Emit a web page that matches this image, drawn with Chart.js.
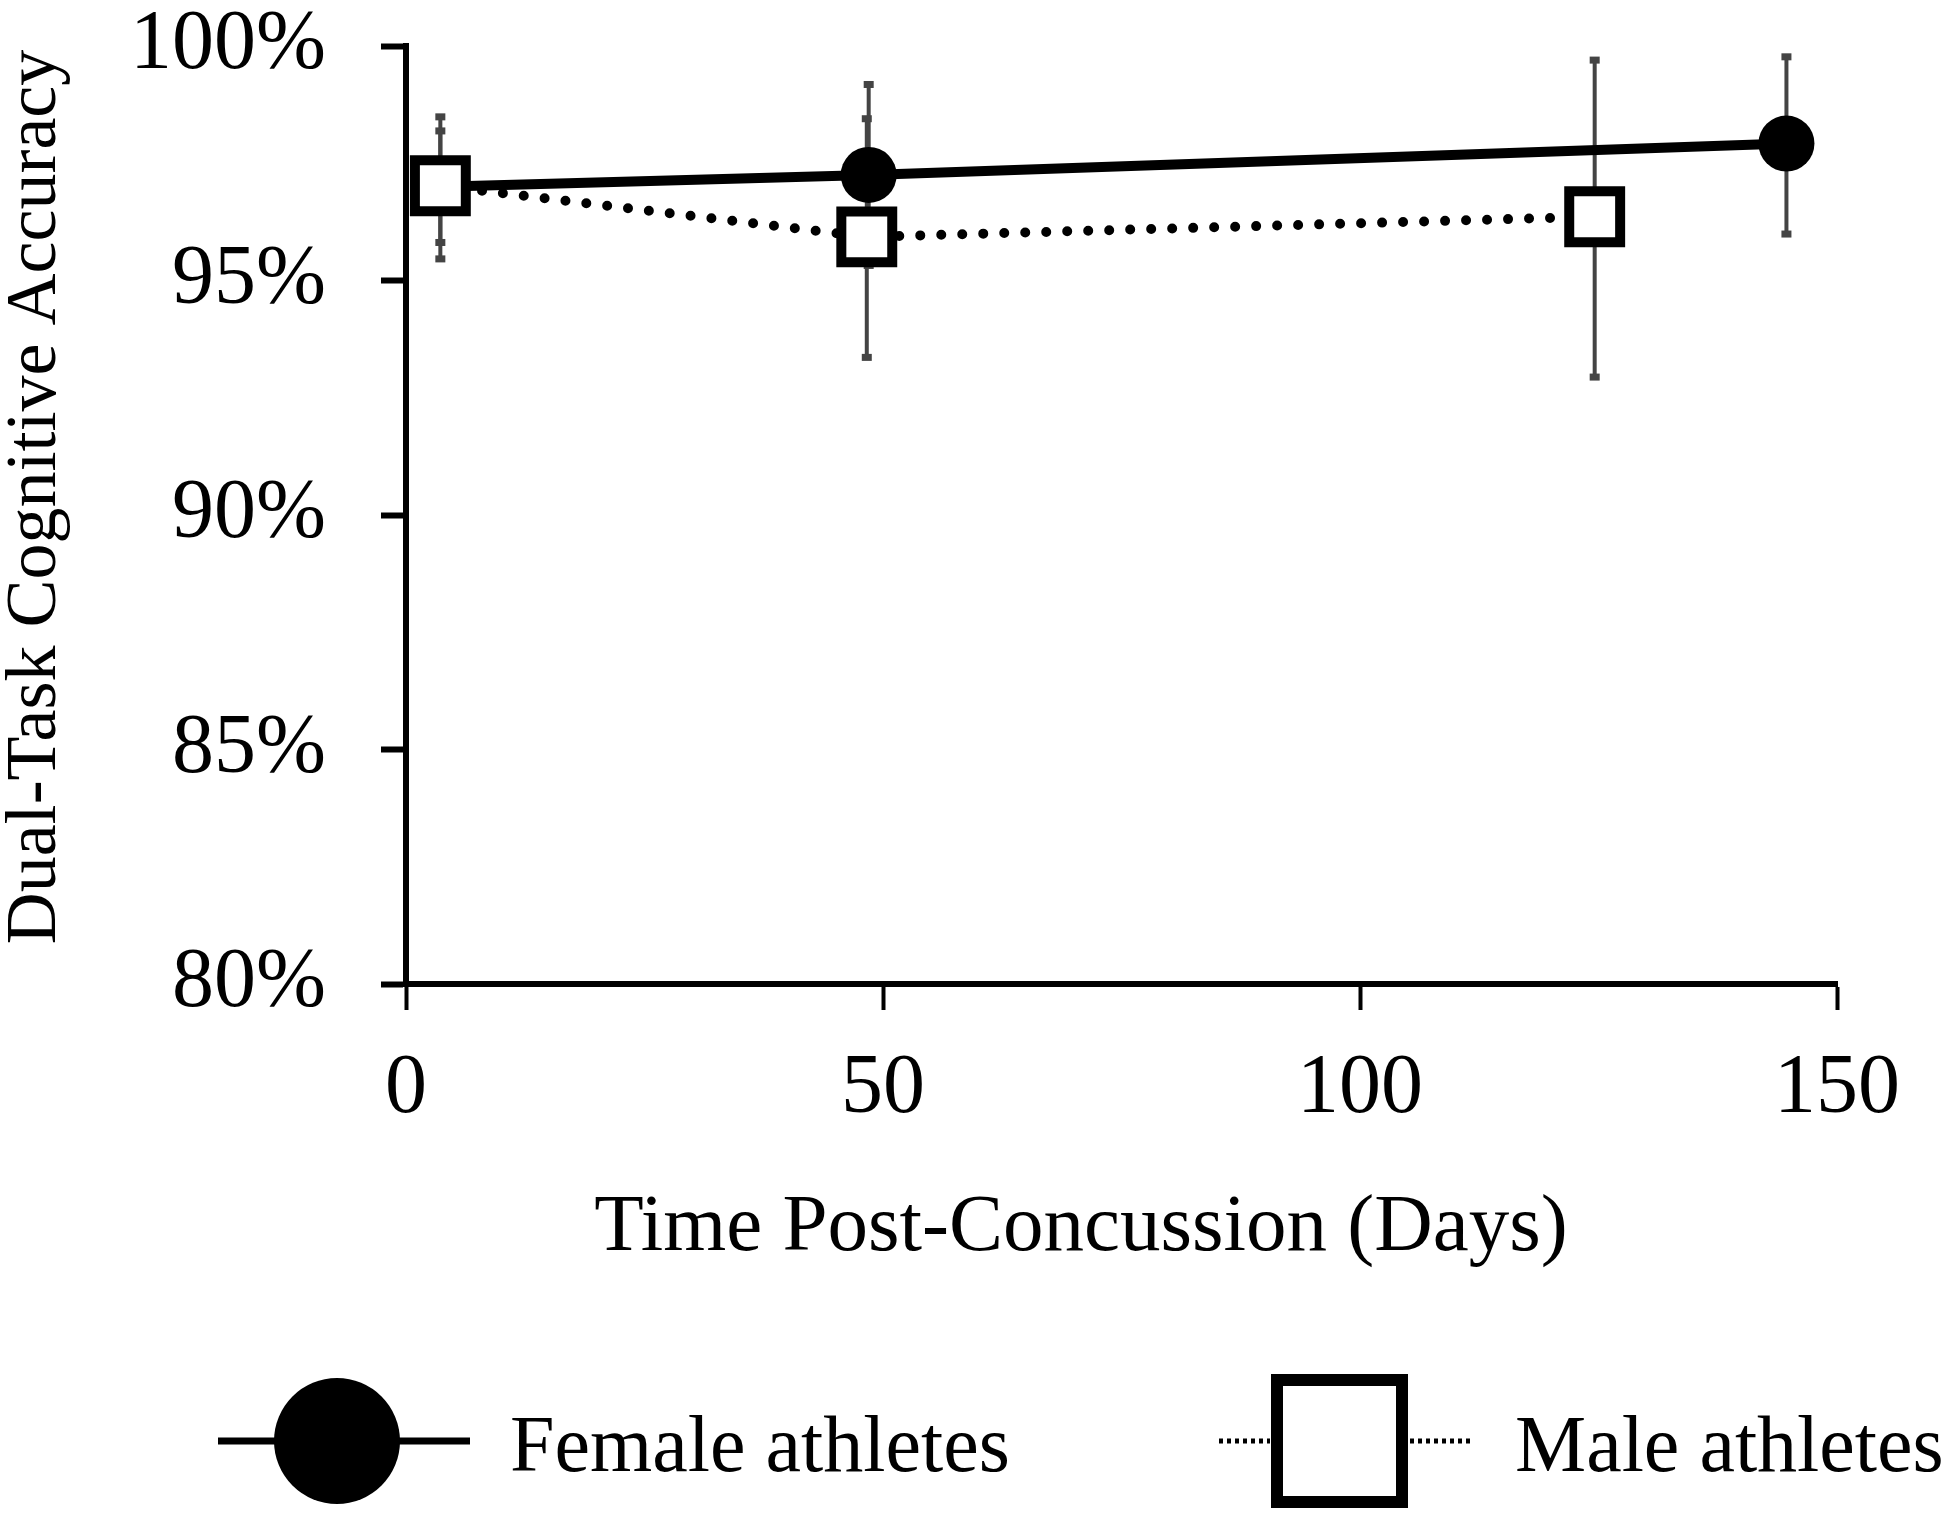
<!DOCTYPE html>
<html>
<head>
<meta charset="utf-8">
<script src="https://cdn.jsdelivr.net/npm/chart.js@4.4.0/dist/chart.umd.min.js"></script>
<style>
  html, body { margin: 0; padding: 0; background: #fff; }
  #wrap { width: 1950px; height: 1525px; position: relative; }
</style>
</head>
<body>
<div id="wrap"><canvas id="chart"></canvas></div>
<script>
// values (days post-concussion, % accuracy, error bar ends)
const femaleDays = [3.6, 48.5, 144.7];
const femaleMean = [97.0, 97.25, 97.92];
const femaleLow = [95.45, 95.31, 95.98];
const femaleHigh = [98.5, 99.19, 99.78];

const maleDays = [3.6, 48.3, 124.6];
const maleMean = [97.02, 95.93, 96.36];
const maleLow = [95.8, 93.35, 92.93];
const maleHigh = [98.2, 98.46, 99.71];

const xTicks = [0, 50, 100, 150];
const yTicks = [80, 85, 90, 95, 100];

const seriesLabels = ["Female athletes", "Male athletes"];
const xTitle = "Time Post-Concussion (Days)";
const yTitle = "Dual-Task Cognitive Accuracy";

const serif = "'Liberation Serif', 'Times New Roman', serif";

const toPoints = (xs, ys) => xs.map((d, i) => ({ x: d, y: ys[i] }));

// error bars go under the lines and markers
const errorBars = {
    id: 'errorBars',
    beforeDatasetsDraw(chart) {
        const { ctx, scales } = chart;
        ctx.save();
        ctx.strokeStyle = '#444';
        ctx.fillStyle = '#444';
        ctx.lineWidth = 4;
        chart.data.datasets.forEach(ds => {
            ds.data.forEach((p, i) => {
                const px = scales.x.getPixelForValue(p.x);
                const lo = scales.y.getPixelForValue(ds.errLow[i]);
                const hi = scales.y.getPixelForValue(ds.errHigh[i]);
                ctx.beginPath();
                ctx.moveTo(px, lo);
                ctx.lineTo(px, hi);
                ctx.stroke();
                ctx.fillRect(px - 5, hi - 3, 10, 7);
                ctx.fillRect(px - 5, lo - 4, 10, 7);
            });
        });
        ctx.restore();
    }
};

// legend with the line running through each marker
const lineLegend = {
    id: 'lineLegend',
    afterDraw(chart) {
        const { ctx } = chart;
        const ds = chart.data.datasets;
        const cy = 1441;
        ctx.save();
        ctx.fillStyle = '#000';
        ctx.strokeStyle = '#000';
        ctx.font = "80px " + serif;
        ctx.textBaseline = 'alphabetic';
        ctx.textAlign = 'left';

        // female
        ctx.lineWidth = 7;
        ctx.beginPath();
        ctx.moveTo(218, cy);
        ctx.lineTo(470, cy);
        ctx.stroke();
        ctx.beginPath();
        ctx.arc(337, cy, 63, 0, Math.PI * 2);
        ctx.fill();
        ctx.fillText(ds[0].label, 510, 1471);

        // male
        ctx.lineWidth = 5;
        ctx.setLineDash([4, 4]);
        ctx.beginPath();
        ctx.moveTo(1219, cy);
        ctx.lineTo(1270, cy);
        ctx.moveTo(1410, cy);
        ctx.lineTo(1471, cy);
        ctx.stroke();
        ctx.setLineDash([]);
        ctx.lineWidth = 12;
        ctx.fillStyle = '#fff';
        ctx.fillRect(1277, 1380, 125, 122);
        ctx.strokeRect(1277, 1380, 125, 122);
        ctx.fillStyle = '#000';
        ctx.fillText(ds[1].label, 1515, 1471);
        ctx.restore();
    }
};

new Chart(document.getElementById('chart'), {
    type: 'line',
    data: {
        datasets: [
            {
                label: seriesLabels[0],
                data: toPoints(femaleDays, femaleMean),
                errLow: femaleLow,
                errHigh: femaleHigh,
                order: 1,
                borderColor: '#000',
                borderWidth: 10,
                pointStyle: 'circle',
                pointRadius: 28,
                pointBackgroundColor: '#000',
                pointBorderColor: '#000',
                pointBorderWidth: 0,
                tension: 0,
                clip: false
            },
            {
                label: seriesLabels[1],
                data: toPoints(maleDays, maleMean),
                errLow: maleLow,
                errHigh: maleHigh,
                order: 0,
                borderColor: '#000',
                borderWidth: 10,
                borderDash: [0, 21],
                borderCapStyle: 'round',
                pointStyle: 'rect',
                pointRadius: 36,
                pointBackgroundColor: '#fff',
                pointBorderColor: '#000',
                pointBorderWidth: 10,
                tension: 0,
                clip: false
            }
        ]
    },
    options: {
        responsive: true,
        maintainAspectRatio: false,
        animation: false,
        events: [],
        layout: { padding: { left: 0, top: 44, right: 113, bottom: 0 } },
        plugins: {
            legend: { display: false },
            tooltip: { enabled: false }
        },
        scales: {
            x: {
                type: 'linear',
                min: xTicks[0],
                max: xTicks[xTicks.length - 1],
                afterFit: s => { s.height = 541; },
                ticks: {
                    stepSize: xTicks[1] - xTicks[0],
                    color: '#000',
                    padding: 30,
                    maxRotation: 0,
                    font: { family: serif, size: 84, lineHeight: 1.2 }
                },
                grid: {
                    drawOnChartArea: false,
                    drawTicks: true,
                    tickLength: 26,
                    tickWidth: 4,
                    tickColor: '#000'
                },
                border: { display: true, color: '#000', width: 6 },
                title: {
                    display: true,
                    // trailing spaces nudge the centred title left, as in the figure
                    text: xTitle + "    ",
                    color: '#000',
                    font: { family: serif, size: 81, lineHeight: 1 },
                    padding: { top: 0, bottom: 256 }
                }
            },
            y: {
                min: yTicks[0],
                max: yTicks[yTicks.length - 1],
                afterFit: s => { s.width = 406; s.paddingTop = 0; s.paddingBottom = 0; },
                ticks: {
                    stepSize: yTicks[1] - yTicks[0],
                    color: '#000',
                    padding: 55,
                    font: { family: serif, size: 84, lineHeight: 1 },
                    callback: v => v + '%'
                },
                grid: {
                    drawOnChartArea: false,
                    drawTicks: true,
                    tickLength: 25,
                    tickWidth: 6,
                    tickColor: '#000'
                },
                border: { display: true, color: '#000', width: 6 },
                title: {
                    display: true,
                    text: "  " + yTitle,
                    color: '#000',
                    font: { family: serif, size: 72, lineHeight: 1 },
                    padding: { top: 0, bottom: 0 }
                }
            }
        }
    },
    plugins: [errorBars, lineLegend]
});
</script>
</body>
</html>
